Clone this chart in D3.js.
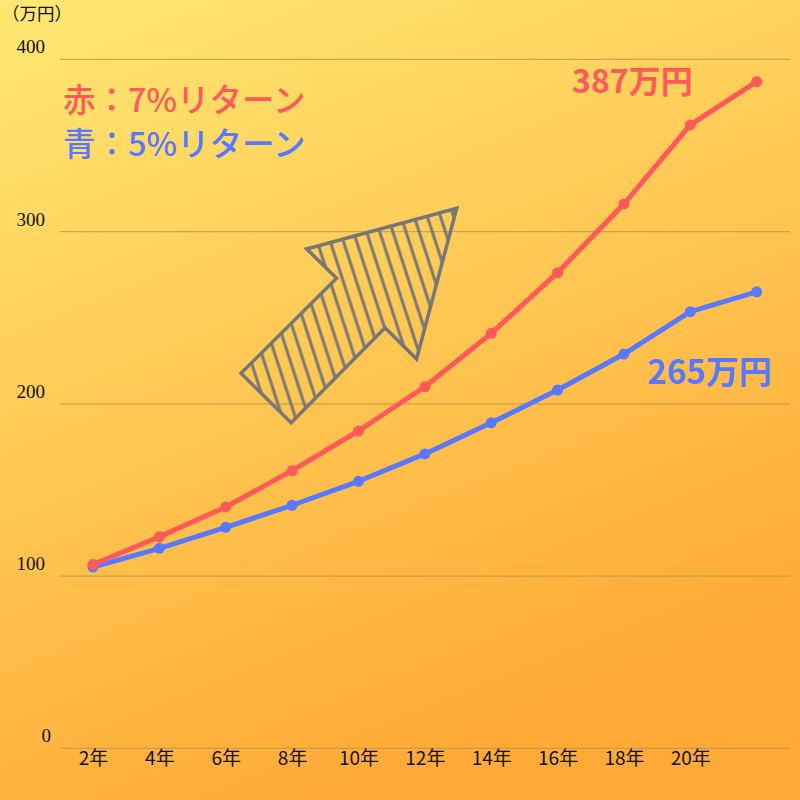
<!DOCTYPE html>
<html>
<head>
<meta charset="utf-8">
<script src="https://cdn.jsdelivr.net/npm/d3@7"></script>
<style>
	html, body { margin: 0; padding: 0; }
	svg { display: block; }
</style>
</head>
<body>
<div id="chart"></div>
<script>
var years = [2, 4, 6, 8, 10, 12, 14, 16, 18, 20, 22];
var tickYears = [2, 4, 6, 8, 10, 12, 14, 16, 18, 20];
var yTicks = [0, 100, 200, 300, 400];
var redValues = [106.7, 122.8, 140.1, 161.2, 184.2, 209.9, 240.9, 276.1, 316.0, 361.9, 387];
var blueValues = [105.2, 116.1, 128.3, 141.1, 155.0, 170.9, 189.0, 208.0, 228.9, 253.5, 265];
var legendLabels = ["赤：7%リターン", "青：5%リターン"];
var unitLabel = "（万円）";
// arrow outline, in (year, 万円) units
var arrowYears = [6.46, 7.97, 10.80, 11.75, 12.96, 8.44, 9.34];
var arrowValues = [217.7, 189.0, 244.2, 226.0, 313.5, 289.9, 272.9];

function drawSeries(g, values, color, x, y) {
	var pts = years.map(function(yr, i) { return [yr, values[i]]; });
	g.append("path")
		.datum(pts)
		.attr("fill", "none")
		.attr("stroke", color)
		.attr("stroke-width", 5)
		.attr("stroke-linejoin", "round")
		.attr("d", d3.line().x(function(d) { return x(d[0]); }).y(function(d) { return y(d[1]); }));
	g.selectAll(null)
		.data(pts)
		.enter()
		.append("circle")
		.attr("cx", function(d) { return x(d[0]); })
		.attr("cy", function(d) { return y(d[1]); })
		.attr("r", 5.5)
		.attr("fill", color);
}

function chart(selector) {
	var width = 800;
	var height = 800;
	var red = "#FF5959";
	var blue = "#5878FF";

	var svg = d3.select(selector)
		.append("svg")
		.attr("width", width)
		.attr("height", height);

	var defs = svg.append("defs");
	var grad = defs.append("linearGradient")
		.attr("id", "bg")
		.attr("x1", "0").attr("y1", "0")
		.attr("x2", "0.4").attr("y2", "1");
	grad.append("stop").attr("offset", "0").attr("stop-color", "#FFE873");
	grad.append("stop").attr("offset", "1").attr("stop-color", "#FFAA36");

	var hatch = defs.append("pattern")
		.attr("id", "hatch")
		.attr("patternUnits", "userSpaceOnUse")
		.attr("width", 12.5)
		.attr("height", 40)
		.attr("patternTransform", "rotate(-18)");
	hatch.append("line")
		.attr("x1", 2).attr("y1", -5)
		.attr("x2", 2).attr("y2", 45)
		.attr("stroke", "#777777")
		.attr("stroke-width", 3);

	svg.append("rect")
		.attr("width", width)
		.attr("height", height)
		.attr("fill", "url(#bg)");

	var x = d3.scaleLinear().domain([2, 22]).range([93, 756.7]);
	var y = d3.scaleLinear().domain([0, 400]).range([748.3, 59.3]);

	// grid
	svg.append("g")
		.selectAll("line")
		.data(yTicks)
		.enter()
		.append("line")
		.attr("x1", 60)
		.attr("x2", 790)
		.attr("y1", function(d) { return y(d); })
		.attr("y2", function(d) { return y(d); })
		.attr("stroke", "#B89848")
		.attr("stroke-opacity", 0.75)
		.attr("stroke-width", 1.3);

	svg.append("g")
		.selectAll("text")
		.data(yTicks)
		.enter()
		.append("text")
		.attr("x", function(d) { return d === 0 ? 51 : 45; })
		.attr("y", function(d) { return y(d) - 6; })
		.attr("text-anchor", "end")
		.attr("font-family", "'Liberation Serif', serif")
		.attr("font-size", 19)
		.attr("fill", "#111")
		.text(function(d) { return d; });

	var xAxis = svg.append("g")
		.attr("transform", "translate(0," + y(0) + ")")
		.call(d3.axisBottom(x).tickValues(tickYears).tickSize(0).tickPadding(3)
			.tickFormat(function(d) { return d + "年"; }));
	xAxis.select(".domain").remove();
	xAxis.selectAll("text")
		.attr("font-family", "'Noto Sans CJK JP', sans-serif")
		.attr("font-size", 19)
		.attr("fill", "#111");

	svg.append("text")
		.attr("x", 2)
		.attr("y", 20)
		.attr("font-family", "'Noto Sans CJK JP', sans-serif")
		.attr("font-size", 17.5)
		.attr("fill", "#111")
		.text(unitLabel);

	// arrow
	var arrowPts = arrowYears.map(function(yr, i) { return [x(yr), y(arrowValues[i])]; });
	svg.append("polygon")
		.attr("points", arrowPts.map(function(p) { return p.join(","); }).join(" "))
		.attr("fill", "url(#hatch)")
		.attr("stroke", "#777777")
		.attr("stroke-width", 3.5)
		.attr("stroke-linejoin", "miter");

	var lines = svg.append("g").attr("class", "lines");
	drawSeries(lines, blueValues, blue, x, y);
	drawSeries(lines, redValues, red, x, y);

	// legend
	svg.append("g")
		.selectAll("text")
		.data(legendLabels)
		.enter()
		.append("text")
		.attr("x", 63)
		.attr("y", function(d, i) { return 112 + i * 44; })
		.attr("font-family", "'Noto Sans CJK JP', sans-serif")
		.attr("font-weight", 500)
		.attr("font-size", 32.5)
		.attr("fill", function(d, i) { return i === 0 ? red : blue; })
		.text(function(d) { return d; });

	// end labels
	var last = years.length - 1;
	svg.append("text")
		.attr("x", x(years[last]) - 64)
		.attr("y", y(redValues[last]) + 11)
		.attr("text-anchor", "end")
		.attr("font-family", "'Noto Sans CJK JP', sans-serif")
		.attr("font-weight", "bold")
		.attr("font-size", 32)
		.attr("fill", red)
		.text(Math.round(redValues[last]) + "万円");
	svg.append("text")
		.attr("x", x(years[last]) + 15)
		.attr("y", y(blueValues[last]) + 92)
		.attr("text-anchor", "end")
		.attr("font-family", "'Noto Sans CJK JP', sans-serif")
		.attr("font-weight", "bold")
		.attr("font-size", 33)
		.attr("fill", blue)
		.text(Math.round(blueValues[last]) + "万円");
}

chart("#chart");
</script>
</body>
</html>
